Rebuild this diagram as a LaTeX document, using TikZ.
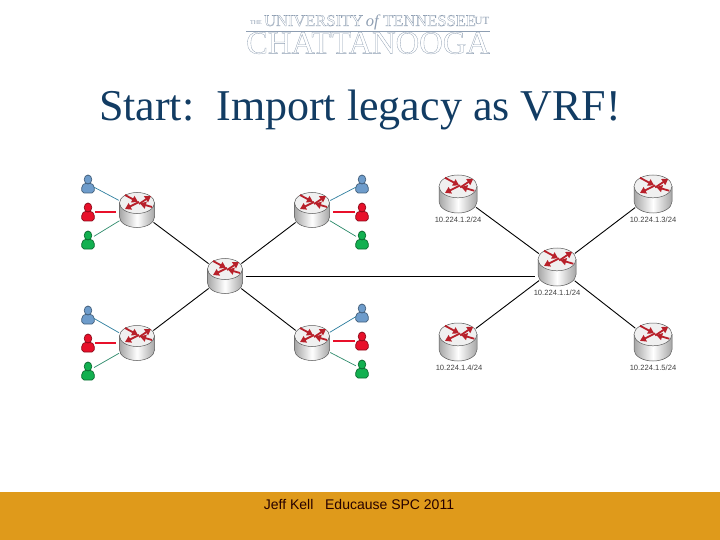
\documentclass[tikz,border=0pt]{standalone}
\usepackage{fontspec}
\setmainfont{Liberation Serif}
\newfontfamily\footfont{Liberation Sans}
\usetikzlibrary{arrows.meta}
\definecolor{barorange}{HTML}{DF9A1B}
\definecolor{titlenavy}{HTML}{123C63}
\definecolor{logoblue}{HTML}{8E9EB2}
\definecolor{arrowred}{HTML}{B8202A}
\definecolor{userblue}{HTML}{6E9CCB}
\definecolor{userred}{HTML}{E8102A}
\definecolor{usergreen}{HTML}{12B050}
\definecolor{lineblue}{HTML}{2F7F9F}
\definecolor{linegreen}{HTML}{2E8B6B}
\newcommand{\outlined}[1]{\special{pdf:code q 0.3 w 1 Tr}#1\special{pdf:code 0 Tr Q}}
\tikzset{
  routerhit/.style={circle, inner sep=0pt, outer sep=0pt},
  userhit/.style={circle, inner sep=0pt, outer sep=0pt, minimum size=14pt},
  link/.style={draw=black, line width=0.9pt},
  ipaddr/.style={font=\footfont\fontsize{7.6}{8}\selectfont, text=black!75, inner sep=0pt},
  redarrow/.style={draw=arrowred, line width=1.8pt, -{Triangle[length=6pt,width=7pt]}},
  pics/router/.style={code={
    \node[routerhit, minimum size=1.18*#1pt] (-hit) at (0,0) {};
    \begin{scope}[scale=#1/35]
      \path[draw=black!65, line width=0.5pt, left color=black!35, right color=black!35, middle color=white]
        (-17.5,-7) -- (-17.5,7) arc[start angle=180, end angle=0, x radius=17.5, y radius=10.5] -- (17.5,-7) -- cycle;
      \path[draw=black!65, line width=0.5pt, fill=black!6] (0,-7) ellipse[x radius=17.5, y radius=10.5];
      \draw[redarrow] (2,-6) -- (14,-14);
      \draw[redarrow] (2,-8) -- (-12,-1);
      \draw[redarrow] (-12,-15) -- (1,-8);
      \draw[redarrow] (15,-3) -- (3,-6.5);
    \end{scope}
  }},
  pics/router/.default=35,
  pics/user/.style={code={
    \node[userhit] (-hit) at (0,0) {};
    \path[draw=#1!60!black, line width=0.7pt, fill=#1, rounded corners=2pt]
      (-6,9) -- (-6.5,2) -- (-3,-1) -- (3,-1) -- (6.5,2) -- (6,9) -- cycle;
    \path[draw=#1!60!black, line width=0.7pt, fill=#1] (0,-4.5) ellipse[x radius=3.8, y radius=4.5];
  }},
}
\begin{document}
\begin{tikzpicture}[x=1pt, y=-1pt]
  \useasboundingbox (0,0) rectangle (720,540);
  \fill[barorange] (0,492) rectangle (720,540);
  % logo
  \node[text=logoblue, font=\fontsize{6}{6}\selectfont, inner sep=0pt] (logothe) at (256,23) {THE};
  \node[text=logoblue, font=\fontsize{16.5}{16}\selectfont, inner sep=0pt] (logotop) at (370,22) {\outlined{UNIVERSITY}\,\textit{of}\,\outlined{TENNESSEE}};
  \node[text=logoblue, font=\fontsize{11}{9}\selectfont, inner sep=0pt] (logout) at (482,21) {UT};
  \node[text=logoblue, font=\fontsize{32.6}{29}\selectfont, inner sep=0pt] (logomain) at (368,43) {\outlined{CHATTANOOGA}};
  \draw[logoblue, line width=0.5pt] (246,31) -- (490,31);
  % title
  \node[text=titlenavy, font=\fontsize{44}{46}\selectfont, inner sep=0pt] (title) at (360,110) {Start:\ \ Import legacy as VRF!};
  % routers on the left
  \pic (edgea) at (137,210) {router};
  \pic (edgeb) at (312,210) {router};
  \pic (edgec) at (137,343) {router};
  \pic (edged) at (312,343) {router};
  \pic (corea) at (225,276) {router};
  % routers on the right
  \pic (peera) at (458,194) {router=38};
  \pic (peerb) at (653,194) {router=38};
  \pic (peerc) at (458,342) {router=38};
  \pic (peerd) at (653,342) {router=38};
  \pic (coreb) at (557,267) {router=38};
  % users
  \pic (ua1) at (88,184) {user=userblue};
  \pic (ua2) at (88,212) {user=userred};
  \pic (ua3) at (88,240) {user=usergreen};
  \pic (ub1) at (362,184) {user=userblue};
  \pic (ub2) at (362,212) {user=userred};
  \pic (ub3) at (362,240) {user=usergreen};
  \pic (uc1) at (88,315) {user=userblue};
  \pic (uc2) at (88,343) {user=userred};
  \pic (uc3) at (88,371) {user=usergreen};
  \pic (ud1) at (362,313) {user=userblue};
  \pic (ud2) at (362,341) {user=userred};
  \pic (ud3) at (362,369) {user=usergreen};
  % links
  \draw[link] (edgea-hit) -- (corea-hit);
  \draw[link] (edgeb-hit) -- (corea-hit);
  \draw[link] (edgec-hit) -- (corea-hit);
  \draw[link] (edged-hit) -- (corea-hit);
  \draw[link] (peera-hit) -- (coreb-hit);
  \draw[link] (peerb-hit) -- (coreb-hit);
  \draw[link] (peerc-hit) -- (coreb-hit);
  \draw[link] (peerd-hit) -- (coreb-hit);
  \draw[link] (corea-hit) -- (corea-hit -| coreb-hit.west);
  \draw[lineblue, line width=0.7pt] (ua1-hit) -- (edgea-hit);
  \draw[userred, line width=1.3pt] (ua2-hit) -- (ua2-hit -| edgea-hit.west);
  \draw[linegreen, line width=0.7pt] (ua3-hit) -- (edgea-hit);
  \draw[lineblue, line width=0.7pt] (ub1-hit) -- (edgeb-hit);
  \draw[userred, line width=1.3pt] (ub2-hit) -- (ub2-hit -| edgeb-hit.east);
  \draw[linegreen, line width=0.7pt] (ub3-hit) -- (edgeb-hit);
  \draw[lineblue, line width=0.7pt] (uc1-hit) -- (edgec-hit);
  \draw[userred, line width=1.3pt] (uc2-hit) -- (uc2-hit -| edgec-hit.west);
  \draw[linegreen, line width=0.7pt] (uc3-hit) -- (edgec-hit);
  \draw[lineblue, line width=0.7pt] (ud1-hit) -- (edged-hit);
  \draw[userred, line width=1.3pt] (ud2-hit) -- (ud2-hit -| edged-hit.east);
  \draw[linegreen, line width=0.7pt] (ud3-hit) -- (edged-hit);
  % addresses
  \node[ipaddr] (ipa) at (458,220) {10.224.1.2/24};
  \node[ipaddr] (ipb) at (653,220) {10.224.1.3/24};
  \node[ipaddr] (ipc) at (557,293) {10.224.1.1/24};
  \node[ipaddr] (ipd) at (459,368) {10.224.1.4/24};
  \node[ipaddr] (ipe) at (653,368) {10.224.1.5/24};
  % footer
  \node[text=black!85!red, font=\footfont\fontsize{14}{15}\selectfont, inner sep=0pt] (footer) at (359,504) {Jeff Kell\ \ \ Educause SPC 2011};
\end{tikzpicture}
\end{document}
